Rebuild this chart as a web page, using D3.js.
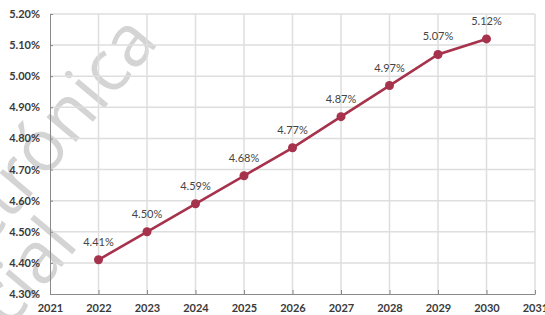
<html>
<head>
  <style>
    body { margin: 0; background: #fff; }
    .grid line { stroke: #dedede; stroke-width: 1.5; }
    .axis path, .axis line { stroke: #8a8a8a; }
    .axis text { font-family: "Lato", sans-serif; font-size: 11px; font-weight: bold; fill: #3a3a3a; }
    .label { font-family: "Lato", sans-serif; font-size: 11px; fill: #444; text-anchor: middle; }
    .mark { font-family: "Open Sans", sans-serif; font-size: 72px; fill: #d4d4d4; }
  </style>
</head>
<body>
<svg class="chart"></svg>
<script src="https://cdn.jsdelivr.net/npm/d3@7"></script>
<script>
  var years = [2022, 2023, 2024, 2025, 2026, 2027, 2028, 2029, 2030];
  var rates = [4.41, 4.50, 4.59, 4.68, 4.77, 4.87, 4.97, 5.07, 5.12];
  var xTicks = [2021, 2022, 2023, 2024, 2025, 2026, 2027, 2028, 2029, 2030, 2031];
  var yTicks = [4.3, 4.4, 4.5, 4.6, 4.7, 4.8, 4.9, 5.0, 5.1, 5.2];

  var W = 545, H = 315;
  var chart = d3.select(".chart").attr("width", W).attr("height", H);

  var x = d3.scaleLinear().domain([2021, 2031]).range([50, 535]);
  var y = d3.scaleLinear().domain([4.3, 5.2]).range([294, 14]);

  // watermark, drawn first so it sits behind
  chart.append("text").attr("class", "mark")
    .attr("transform", "translate(160,42) rotate(-50)")
    .attr("text-anchor", "end")
    .text("Electrónica");
  chart.append("text").attr("class", "mark")
    .attr("transform", "translate(80,245) rotate(-50)")
    .attr("text-anchor", "end")
    .text("Oficial");

  var grid = chart.append("g").attr("class", "grid");
  grid.selectAll(".h").data(yTicks.slice(1)).enter().append("line")
    .attr("x1", x(2021)).attr("x2", x(2031))
    .attr("y1", function(d) { return y(d); })
    .attr("y2", function(d) { return y(d); });
  grid.selectAll(".v").data(xTicks.slice(1)).enter().append("line")
    .attr("x1", function(d) { return x(d); })
    .attr("x2", function(d) { return x(d); })
    .attr("y1", y(5.2)).attr("y2", y(4.3));

  chart.append("g").attr("class", "axis")
    .attr("transform", "translate(0," + y(4.3) + ")")
    .call(d3.axisBottom(x).tickValues(xTicks).tickFormat(d3.format("d"))
      .tickSizeInner(-4).tickSizeOuter(0).tickPadding(10));

  chart.append("g").attr("class", "axis")
    .attr("transform", "translate(" + x(2021) + ",0)")
    .call(d3.axisLeft(y).tickValues(yTicks).tickFormat(function(d) { return d3.format(".2f")(d) + "%"; })
      .tickSizeInner(-3).tickSizeOuter(0).tickPadding(10));

  var pts = years.map(function(d, i) { return [d, rates[i]]; });

  chart.append("path").datum(pts)
    .attr("fill", "none").attr("stroke", "#a6324c").attr("stroke-width", 2.6)
    .attr("d", d3.line().x(function(d) { return x(d[0]); }).y(function(d) { return y(d[1]); }));

  chart.selectAll(".dot").data(pts).enter().append("circle")
    .attr("cx", function(d) { return x(d[0]); })
    .attr("cy", function(d) { return y(d[1]); })
    .attr("r", 4.5).attr("fill", "#a6324c");

  chart.selectAll(".label").data(pts).enter().append("text")
    .attr("class", "label")
    .attr("x", function(d) { return x(d[0]); })
    .attr("y", function(d) { return y(d[1]) - 14; })
    .text(function(d) { return d3.format(".2f")(d[1]) + "%"; });
</script>
</body>
</html>
